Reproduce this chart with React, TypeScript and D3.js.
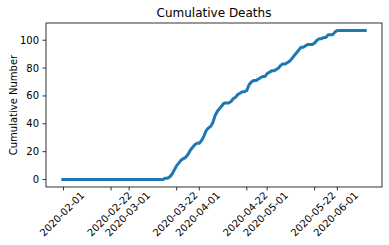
import * as d3 from 'd3';

// daily cumulative deaths, starting 2020-01-31
const startDate = '2020-01-31';
const cumulativeDeaths = [
    0, 0, 0, 0, 0, 0, 0, 0, 0, 0,
    0, 0, 0, 0, 0, 0, 0, 0, 0, 0,
    0, 0, 0, 0, 0, 0, 0, 0, 0, 0,
    0, 0, 0, 0, 0, 0, 0, 0, 0, 0,
    0, 0, 0, 0, 0, 0,
    1, 1, 2, 4, 7, 10, 12, 14, 15, 16,
    18, 21, 23, 25, 26, 26, 28, 31, 35, 37,
    38, 41, 46, 49, 51, 53, 55, 55, 55, 56,
    58, 59, 61, 62, 63, 63, 64, 68, 70, 71,
    71, 72, 73, 74, 74, 76, 77, 78, 78, 79,
    80, 82, 83, 83, 84, 85, 87, 89, 91, 93,
    95, 95, 96, 97, 97, 97, 98, 100, 101, 101,
    102, 102, 104, 104, 104, 106, 107,
    107, 107, 107, 107, 107, 107, 107, 107, 107, 107, 107, 107, 107,
];
const xTickLabels = [
    '2020-02-01', '2020-02-22', '2020-03-01', '2020-03-22', '2020-04-01',
    '2020-04-22', '2020-05-01', '2020-05-22', '2020-06-01',
];
const yTicks = [0, 20, 40, 60, 80, 100];

const width = 389;
const height = 245;
const marginTop = 23;
const marginRight = 7;
const marginBottom = 58;
const marginLeft = 46;

const parse = d3.utcParse('%Y-%m-%d');

export default function App() {
    const start = parse(startDate) as Date;
    const data = cumulativeDeaths.map((v, i) => ({ date: d3.utcDay.offset(start, i), value: v }));

    const [x0, x1] = d3.extent(data, (d) => d.date) as [Date, Date];
    const span = +x1 - +x0;
    const x = d3.scaleUtc()
        .domain([new Date(+x0 - span * 0.05), new Date(+x1 + span * 0.05)])
        .range([marginLeft, width - marginRight]);

    const yMax = d3.max(data, (d) => d.value) || 0;
    const y = d3.scaleLinear()
        .domain([-yMax * 0.05, yMax * 1.05])
        .range([height - marginBottom, marginTop]);

    const line = d3.line<{ date: Date; value: number }>()
        .x((d) => x(d.date))
        .y((d) => y(d.value));

    const bottom = height - marginBottom;
    const font = 'DejaVu Sans';

    return (
        <svg width={width} height={height} style={{ position: 'absolute', left: 0, top: 0, background: 'white' }} fontFamily={font}>
            <text x={(marginLeft + width - marginRight) / 2} y={17} textAnchor="middle" fontSize={12}>Cumulative Deaths</text>

            <path d={line(data) || ''} fill="none" stroke="#1f77b4" strokeWidth={3} strokeLinejoin="round" />

            <rect x={marginLeft} y={marginTop} width={width - marginRight - marginLeft} height={bottom - marginTop} fill="none" stroke="black" strokeWidth={0.8} />

            {yTicks.map((t) => (
                <g key={t}>
                    <line x1={marginLeft - 3.5} x2={marginLeft} y1={y(t)} y2={y(t)} stroke="black" strokeWidth={0.8} />
                    <text x={marginLeft - 7} y={y(t)} dy="0.35em" textAnchor="end" fontSize={10}>{t}</text>
                </g>
            ))}

            {xTickLabels.map((t) => {
                const tx = x(parse(t) as Date);
                return (
                    <g key={t}>
                        <line x1={tx} x2={tx} y1={bottom} y2={bottom + 3.5} stroke="black" strokeWidth={0.8} />
                        <text transform={`translate(${tx - 1.5},${bottom + 27}) rotate(-45)`} textAnchor="middle" dominantBaseline="central" fontSize={10}>{t}</text>
                    </g>
                );
            })}

            <text transform={`translate(16.5,${(marginTop + bottom) / 2}) rotate(-90)`} textAnchor="middle" fontSize={10}>Cumulative Number</text>
        </svg>
    );
}
